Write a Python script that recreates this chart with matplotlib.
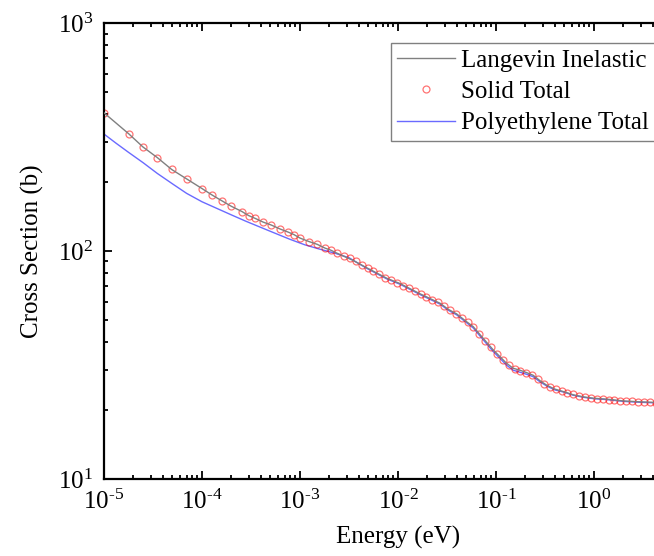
import matplotlib
matplotlib.use('Agg')
import matplotlib.pyplot as plt
from matplotlib.ticker import FuncFormatter
import math

# Langevin inelastic (grey line), energy in eV, cross section in barns
langevin_e = [1.0e-5, 1.8e-5, 2.5e-5, 3.5e-5, 4.9e-5, 7.0e-5, 1.0e-4, 1.27e-4,
              1.6e-4, 2.0e-4, 2.56e-4, 3.0e-4, 3.5e-4, 4.2e-4, 5.1e-4, 6.25e-4,
              7.6e-4, 8.7e-4, 1.0e-3, 1.24e-3, 1.5e-3, 1.8e-3, 2.05e-3, 2.37e-3,
              3.47e-3, 4.79e-3, 7.67e-3, 1.05e-2, 1.67e-2, 2.69e-2, 3.26e-2,
              3.97e-2, 5.01e-2, 5.86e-2, 7.41e-2, 9.40e-2, 1.10e-1, 1.28e-1,
              1.50e-1, 1.76e-1, 2.05e-1, 2.40e-1, 2.81e-1, 3.29e-1, 3.98e-1,
              5.01e-1, 6.15e-1, 7.94e-1, 1.0, 1.35, 2.0, 2.95, 4.0, 10.0]
langevin_xs = [404, 326, 286, 257, 228, 207, 188, 176,
               166, 157, 149, 143, 139, 134, 130, 125,
               121, 118, 114, 110, 107, 103, 101, 98,
               91, 84.5, 76, 72, 65, 59, 55.5,
               53, 49, 46.6, 41.4, 36.8, 34.4, 32.2,
               30.6, 30.0, 29.3, 28.5, 27.0, 25.8, 24.8,
               24.1, 23.4, 22.9, 22.6, 22.4, 22.0, 21.8, 21.7, 21.3]

# Solid total (red open circles)
solid_e = [1.0e-5, 1.8e-5, 2.5e-5, 3.5e-5, 4.9e-5, 7.0e-5, 1.0e-4, 1.27e-4,
           1.6e-4, 2.0e-4, 2.56e-4, 3.0e-4, 3.5e-4, 4.2e-4, 5.1e-4, 6.25e-4,
           7.6e-4, 8.7e-4, 1.0e-3, 1.24e-3, 1.5e-3, 1.8e-3, 2.05e-3, 2.37e-3,
           2.82e-3, 3.24e-3, 3.72e-3, 4.27e-3, 4.9e-3, 5.62e-3, 6.46e-3,
           7.41e-3, 8.51e-3, 9.77e-3, 1.12e-2, 1.29e-2, 1.48e-2, 1.70e-2,
           1.95e-2, 2.24e-2, 2.57e-2, 2.95e-2, 3.39e-2, 3.89e-2, 4.47e-2,
           5.13e-2, 5.89e-2, 6.76e-2, 7.76e-2, 8.91e-2, 0.102, 0.117, 0.135,
           0.155, 0.178, 0.204, 0.234, 0.269, 0.309, 0.355, 0.407, 0.468,
           0.537, 0.617, 0.708, 0.813, 0.933, 1.07, 1.23, 1.41, 1.62, 1.86,
           2.14, 2.45, 2.82, 3.24, 3.72, 4.27, 4.9, 5.62]
solid_xs = [404, 326, 286, 257, 228, 207, 188, 176,
            166, 157, 149, 143, 139, 134, 130, 125,
            121, 118, 114, 110, 107, 103, 101, 98,
            95.5, 93, 90, 87, 84, 81.5, 79,
            76.5, 74.5, 72.5, 70.5, 68.5, 66.7, 64.8,
            63, 61.2, 59.5, 57.3, 55, 53, 51,
            48.7, 46.3, 43.4, 40.5, 37.8, 35.5, 33.4, 31.6,
            30.4, 29.9, 29.3, 28.6, 27.5, 26.2, 25.3, 24.7, 24.3,
            23.9, 23.5, 23.1, 22.9, 22.7, 22.5, 22.4, 22.3, 22.15, 22.05,
            21.95, 21.9, 21.8, 21.75, 21.7, 21.65, 21.6, 21.55]

# Polyethylene total (blue line)
poly_e = [1.0e-5, 1.33e-5, 1.78e-5, 2.51e-5, 3.5e-5, 5.01e-5, 6.98e-5,
          1.0e-4, 1.41e-4, 2.0e-4, 2.82e-4, 3.98e-4, 5.62e-4, 7.94e-4,
          1.12e-3, 1.58e-3, 2.24e-3, 3.16e-3, 4.79e-3, 7.67e-3,
          1.05e-2, 1.67e-2, 2.69e-2, 3.26e-2, 3.97e-2, 5.01e-2, 5.86e-2,
          7.41e-2, 9.40e-2, 1.10e-1, 1.28e-1, 1.50e-1, 1.76e-1, 2.05e-1,
          2.40e-1, 2.81e-1, 3.29e-1, 3.98e-1, 5.01e-1, 6.15e-1, 7.94e-1,
          1.0, 1.35, 2.0, 2.95, 4.0, 10.0]
poly_xs = [326, 297, 271, 244, 219, 197, 179,
           164.5, 154, 144, 135, 127, 119.5, 112.5,
           106.5, 102, 98, 93.5, 84, 75.5,
           71.5, 64.5, 58.5, 55, 52.5, 48.5, 46,
           40.8, 36.2, 33.8, 31.6, 30.0, 29.4, 28.8,
           28.1, 26.7, 25.6, 24.6, 24.0, 23.3, 22.8,
           22.5, 22.3, 21.9, 21.7, 21.6, 21.2]

plt.rcParams['font.family'] = ['Liberation Serif', 'DejaVu Serif']
plt.rcParams['mathtext.fontset'] = 'custom'
plt.rcParams['mathtext.rm'] = 'Liberation Serif'
plt.rcParams['mathtext.it'] = 'Liberation Serif:italic'
plt.rcParams['axes.unicode_minus'] = False
plt.rcParams['font.size'] = 18


def decade_label(v, pos):
    # "10" with a small superscript exponent, hyphen instead of a long minus
    n = int(round(math.log10(v)))
    exp = str(abs(n))
    if n < 0:
        exp = r'\text{-}' + exp
    return r'$\mathregular{10^{%s}}$' % exp


fig = plt.figure(figsize=(6.54, 5.56), dpi=100)
ax = fig.add_axes([0.159, 0.1385, 0.899, 0.820])

ax.plot(langevin_e, langevin_xs, color='#808080', lw=1.0,
        label='Langevin Inelastic', zorder=3)
ax.plot(solid_e, solid_xs, linestyle='none', marker='o', markersize=5,
        markerfacecolor='none', markeredgecolor=(1, 0, 0, 0.55),
        markeredgewidth=0.9, label='Solid Total', zorder=2)
ax.plot(poly_e, poly_xs, color='#6a6aff', lw=1.0,
        label='Polyethylene Total', zorder=1)

ax.set_xscale('log')
ax.set_yscale('log')
ax.set_xlim(1e-5, 1e1)
ax.set_ylim(1e1, 1e3)
ax.set_xticks([1e-5, 1e-4, 1e-3, 1e-2, 1e-1, 1e0])
ax.xaxis.set_major_formatter(FuncFormatter(decade_label))
ax.yaxis.set_major_formatter(FuncFormatter(decade_label))

ax.set_xlabel('Energy (eV)', labelpad=8)
ax.set_ylabel('Cross Section (b)', labelpad=10)

for side in ax.spines.values():
    side.set_linewidth(1.6)
ax.tick_params(which='both', direction='in', top=True, right=True, width=1.3)
ax.tick_params(which='major', length=6, pad=8)
ax.tick_params(which='minor', length=3)

leg = ax.legend(loc='upper left', bbox_to_anchor=(391 / 654, 1 - 43 / 556),
                bbox_transform=fig.transFigure, fancybox=False,
                edgecolor='#808080', framealpha=1, borderpad=0.25,
                handlelength=2.3, handletextpad=0.25, labelspacing=0.35,
                borderaxespad=0)
leg.get_frame().set_linewidth(1.0)

plt.savefig('out.png', dpi=100)
plt.close()
